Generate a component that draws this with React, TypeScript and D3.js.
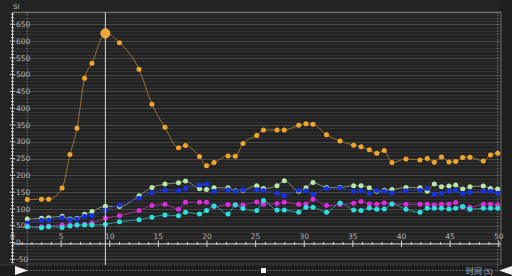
import React, { useEffect, useRef } from "react";
import * as d3 from "d3";

// sample times (s)
const times = [1.52, 2.98, 3.72, 5.1, 5.91, 6.63, 7.41, 8.17, 9.55, 11.0, 13.01, 14.34, 15.68, 17.07, 17.79, 19.23, 19.95, 20.72, 22.16, 22.91, 23.7, 25.11, 25.81, 27.2, 27.95, 29.43, 30.18, 30.9, 32.29, 33.68, 35.08, 35.84, 36.69, 37.46, 38.23, 39.02, 40.46, 41.9, 42.65, 43.37, 44.11, 44.88, 45.57, 46.29, 47.04, 48.41, 49.15, 49.89];

const orangeVals = [128, 129, 129, 162, 262, 340, 489, 534, 623, 595, 516, 412, 343, 282, 289, 256, 229, 238, 258, 257, 295, 319, 335, 335, 335, 349, 354, 352, 321, 302, 290, 285, 276, 266, 274, 238, 249, 246, 250, 239, 255, 240, 241, 253, 254, 243, 261, 266];
const greenVals = [70, 72, 74, 78, 70, 72, 84, 92, 108, 107, 139, 164, 174, 178, 183, 160, 158, 163, 163, 154, 156, 169, 161, 169, 184, 153, 163, 179, 164, 164, 169, 169, 163, 153, 156, 158, 164, 163, 153, 174, 166, 168, 171, 159, 166, 168, 161, 159];
const blueVals = [58, 66, 67, 74, 68, 70, 78, 80, 97, 112, 132, 148, 156, 155, 161, 171, 174, 153, 157, 153, 157, 157, 155, 147, 140, 156, 154, 144, 161, 162, 153, 154, 147, 155, 153, 148, 154, 156, 161, 144, 147, 153, 156, 147, 150, 153, 153, 147];
const magentaVals = [49, 47, 49, 52, 52, 52, 54, 58, 72, 80, 95, 110, 114, 99, 120, 120, 120, 107, 113, 113, 112, 121, 114, 116, 120, 114, 115, 129, 110, 113, 117, 122, 115, 114, 118, 115, 114, 114, 114, 112, 114, 115, 119, 105, 105, 114, 114, 112];
const cyanVals = [47, 44, 47, 45, 49, 52, 52, 52, 54, 62, 68, 75, 82, 80, 90, 85, 95, 109, 85, 112, 101, 95, 125, 97, 97, 90, 105, 105, 90, 118, 97, 95, 103, 99, 100, 115, 99, 90, 102, 102, 102, 100, 102, 107, 99, 102, 102, 102];

const seriesNames = ["orange", "green", "blue", "magenta", "cyan"];
const seriesVals = [orangeVals, greenVals, blueVals, magentaVals, cyanVals];
const pointColors = ["#f2a52a", "#b6e8a6", "#1432ec", "#e02ae0", "#2ae0e0"];
const lineColors = ["#9a7230", "#7c907a", "#2436a0", "#9a329a", "#2a9a9a"];

const yTicks = d3.range(-50, 651, 50);
const xTicks = d3.range(0, 51, 5);
const cursorTime = 9.55;

export default function App() {
  const ref = useRef<SVGSVGElement>(null);

  useEffect(() => {
    const svg = d3.select(ref.current);
    svg.selectAll("*").remove();

    const W = 512, H = 276;
    const x = d3.scaleLinear().domain([0, 50]).range([12.5, 498.75]);
    const y = d3.scaleLinear().domain([0, 650]).range([242.5, 24.3]);
    const left = x(0), right = 501, top = 12.3, bottom = 265;
    const axisY = y(0) + 1.5;

    svg.append("rect").attr("width", W).attr("height", H).attr("fill", "#1e1e1e");
    svg.append("rect").attr("x", 0).attr("y", 0).attr("width", right).attr("height", bottom)
      .attr("fill", "#232323");

    // grid
    const g = svg.append("g");
    d3.range(-60, 690, 10).forEach(v => {
      const major = v % 50 === 0;
      g.append("line")
        .attr("x1", left).attr("x2", right)
        .attr("y1", Math.round(y(v)) + 0.5).attr("y2", Math.round(y(v)) + 0.5)
        .attr("stroke", major ? "#484848" : "#323232").attr("stroke-width", 1);
    });

    // frame
    svg.append("line").attr("x1", left).attr("x2", right).attr("y1", top).attr("y2", top)
      .attr("stroke", "#8a8a8a");
    svg.append("line").attr("x1", right).attr("x2", right).attr("y1", top).attr("y2", bottom)
      .attr("stroke", "#6a6a6a");
    svg.append("line").attr("x1", 0).attr("x2", right).attr("y1", bottom).attr("y2", bottom)
      .attr("stroke", "#3a3a3a");

    // data start / end markers
    [times[0], times[times.length - 1]].forEach(t => {
      svg.append("line").attr("x1", x(t)).attr("x2", x(t)).attr("y1", top).attr("y2", 272)
        .attr("stroke", "#9a9a9a").attr("stroke-dasharray", "1,2");
    });

    // y axis
    const ya = svg.append("g");
    ya.append("line").attr("x1", left).attr("x2", left).attr("y1", top).attr("y2", 262)
      .attr("stroke", "#d0d0d0");
    d3.range(-60, 681, 10).forEach(v => {
      const major = v % 50 === 0;
      ya.append("line")
        .attr("x1", left - (major ? 2.5 : 1.5)).attr("x2", left + (major ? 2.5 : 1.5))
        .attr("y1", y(v)).attr("y2", y(v)).attr("stroke", "#d0d0d0");
    });
    ya.selectAll("text").data(yTicks).join("text")
      .attr("x", 16).attr("y", d => y(d) + 2.7)
      .attr("fill", "#b4b4b4").style("font-family", "DejaVu Sans").style("font-size", "7.5px")
      .text(d => d);
    svg.append("text").attr("x", 13).attr("y", 9).attr("fill", "#b4b4b4")
      .style("font-family", "DejaVu Sans").style("font-size", "7px").text("SI");

    // x axis
    const xa = svg.append("g");
    xa.append("line").attr("x1", left).attr("x2", right).attr("y1", axisY).attr("y2", axisY)
      .attr("stroke", "#d0d0d0");
    d3.range(0, 51, 1).forEach(t => {
      const major = t % 5 === 0;
      xa.append("line").attr("x1", x(t)).attr("x2", x(t))
        .attr("y1", axisY - (major ? 3.5 : 2)).attr("y2", axisY + (major ? 3 : 1))
        .attr("stroke", "#d0d0d0");
    });
    xa.selectAll("text").data(xTicks).join("text")
      .attr("x", d => x(d)).attr("y", axisY - 5).attr("text-anchor", "middle")
      .attr("fill", "#b4b4b4").style("font-family", "DejaVu Sans").style("font-size", "7.5px")
      .text(d => d);

    // series
    const line = d3.line<number>()
      .x((d, i) => x(times[i]))
      .y(d => y(d))
      .curve(d3.curveMonotoneX);

    seriesVals.forEach((vals, si) => {
      const sg = svg.append("g").attr("class", seriesNames[si]);
      sg.append("path").attr("d", line(vals)).attr("fill", "none")
        .attr("stroke", lineColors[si]).attr("stroke-width", 1);
      sg.selectAll("circle").data(vals).join("circle")
        .attr("cx", (d, i) => x(times[i])).attr("cy", d => y(d)).attr("r", 2.5)
        .attr("fill", pointColors[si]);
    });

    // cursor
    const ci = times.indexOf(cursorTime);
    svg.append("line").attr("x1", x(cursorTime)).attr("x2", x(cursorTime))
      .attr("y1", top).attr("y2", bottom).attr("stroke", "#d8d8d8");
    svg.append("circle").attr("cx", x(cursorTime)).attr("cy", y(orangeVals[ci])).attr("r", 4.5)
      .attr("fill", "#f5a630").attr("stroke", "#ffc870").attr("stroke-width", 0.8);

    // scroll bar
    svg.append("line").attr("x1", x(times[0])).attr("x2", x(times[times.length - 1]))
      .attr("y1", 270.5).attr("y2", 270.5).attr("stroke", "#9a9a9a").attr("stroke-dasharray", "1,2");
    svg.append("path").attr("d", "M15,266L28,270.5L15,275Z").attr("fill", "#f0f0f0");
    svg.append("path").attr("d", "M512,266L499,270.5L512,275Z").attr("fill", "#f0f0f0");
    svg.append("rect").attr("x", 261).attr("y", 268).attr("width", 5).attr("height", 5).attr("fill", "#f0f0f0");
    svg.append("text").attr("x", 466).attr("y", 273.5).attr("fill", "#b4b4b4")
      .style("font-family", "Noto Sans CJK SC").style("font-size", "8px").text("时间 (s)");
  }, []);

  return (
    <div style={{ position: "fixed", left: 0, top: 0 }}>
      <svg ref={ref} width={512} height={276} style={{ display: "block" }} />
    </div>
  );
}
